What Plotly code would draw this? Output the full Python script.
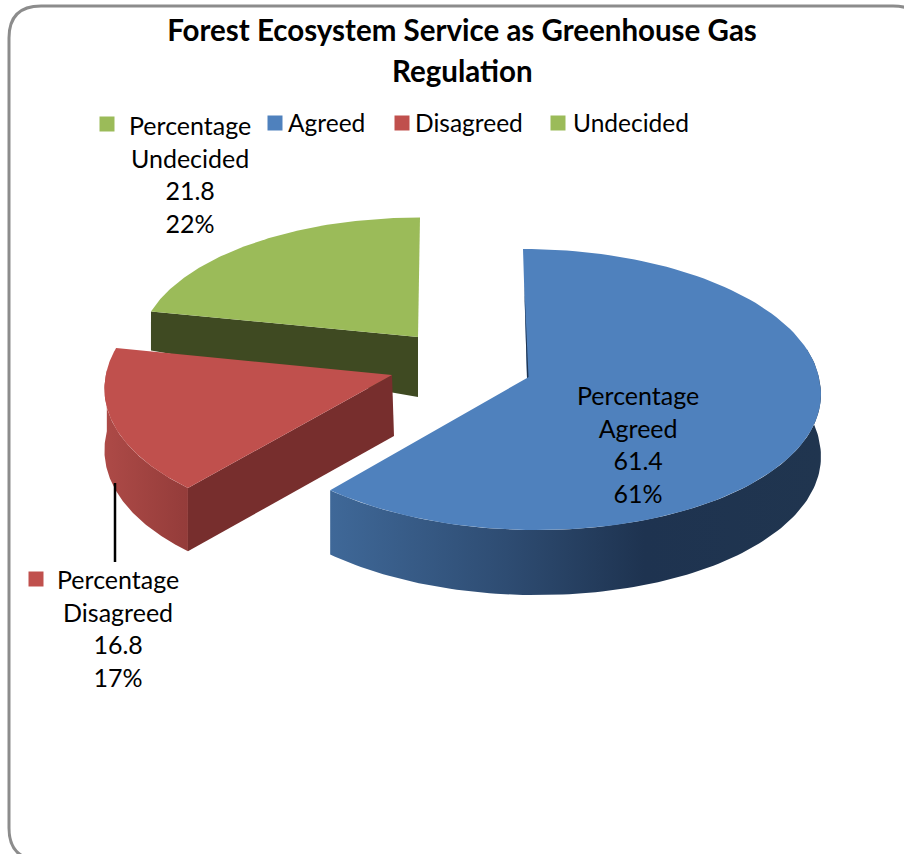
import numpy as np
import plotly.graph_objects as go

categories = ["Agreed", "Disagreed", "Undecided"]
values = [61.4, 16.8, 21.8]
title_lines = ["Forest Ecosystem Service as Greenhouse Gas", "Regulation"]
series_name = "Percentage"

FONT = "Lato, Carlito, Calibri, sans-serif"
W, H = 904, 854
RX, RY, K = 292.0, 139.6, 0.082

top_colors = ["#4f81bd", "#c0504d", "#9bbb59"]
cut_colors = ["#1f3450", "#772e2d", "#3f4a22"]
apex = [(527, 378), (392, 375), (418, 337)]
scale = [1.0, 0.98, 0.95]
# small per-wedge perspective corrections: (x rear, x front, y rear, y front)
shear = [(4, 10, 0, 0), (0, -5, 0, 4), (-2, 0, -3, 0)]
depth = [62, 61, 60]


def pt(i, deg, drop=0.0):
    t = np.radians(deg)
    u, v = np.sin(t), -np.cos(t)
    d = 1 - K * v
    sx_r, sx_f, sy_r, sy_f = shear[i]
    x = apex[i][0] + scale[i] * RX * u / d + (sx_f if v > 0 else sx_r) * v
    y = apex[i][1] + scale[i] * RY * v / d + (sy_f if v > 0 else sy_r) * v
    return x, y + drop * (1 + 0.05 * v)


def arc(i, a, b, drop=0.0, n=120):
    pts = [pt(i, d, drop) for d in np.linspace(a, b, n)]
    return [p[0] for p in pts], [p[1] for p in pts]


def poly(fig, xs, ys, color, gradient=None):
    kw = dict(fillgradient=gradient) if gradient else dict(fillcolor=color)
    fig.add_trace(go.Scatter(x=xs, y=ys, mode="lines", fill="toself",
                             line=dict(color="rgba(0,0,0,0)", width=0),
                             hoverinfo="skip", showlegend=False, **kw))


total = sum(values)
starts, ends, acc = [], [], 0.0
for v in values:
    starts.append(acc / total * 360)
    acc += v
    ends.append(acc / total * 360)

fig = go.Figure()

# Undecided wedge: cut face then top
i = 2
x0, y0 = pt(i, starts[i])
ax, ay = apex[i]
poly(fig, [x0, ax, ax, x0], [y0, ay, ay + depth[i], y0 + depth[i] * 0.65], cut_colors[i])
xs, ys = arc(i, starts[i], ends[i])
poly(fig, [ax] + xs, [ay] + ys, top_colors[i])

# Disagreed wedge: outer wall, cut face, top
i = 1
xa, ya = arc(i, starts[i], 272, 0)
xb, yb = arc(i, 272, starts[i], depth[i])
poly(fig, xa + xb, ya + yb, None,
     dict(type="horizontal", colorscale=[[0, "#ad4a47"], [1, "#943c3a"]]))
x1, y1 = pt(i, starts[i])
x2, y2 = pt(i, starts[i], depth[i])
ax, ay = apex[i]
poly(fig, [ax, x1, x2, ax + 2], [ay, y1, y2, ay + depth[i]], cut_colors[i])
xs, ys = arc(i, starts[i], ends[i])
poly(fig, [ax] + xs, [ay] + ys, top_colors[i])

# Agreed wedge: outer wall, top, dark sliver of the start cut face
i = 0
xa, ya = arc(i, 78, ends[i], 0)
xb, yb = arc(i, ends[i], 78, depth[i])
poly(fig, xa + xb, ya + yb, None,
     dict(type="horizontal",
          colorscale=[[0, "#3f6898"], [0.36, "#2e4c72"], [0.64, "#1e3350"], [1, "#20354f"]]))
ax, ay = apex[i]
xs, ys = arc(i, starts[i], ends[i])
poly(fig, [ax] + xs, [ay] + ys, top_colors[i])
tx, ty = pt(i, starts[i])
poly(fig, [tx + 0.3 * (ax - tx), ax, ax + 1.5],
     [ty + 0.27 * (ay - ty), ay, ay - 1], cut_colors[i])

# Leader line of the Disagreed label
fig.add_trace(go.Scatter(x=[115, 115], y=[483, 562], mode="lines", hoverinfo="skip",
                         line=dict(color="black", width=2.5), showlegend=False))

# Keys: legend row and data-label keys
key_x = [275, 402, 558, 107, 36]
key_y = [123, 123, 123, 124, 579]
key_c = top_colors + [top_colors[2], top_colors[1]]
fig.add_trace(go.Scatter(x=key_x, y=key_y, mode="markers", hoverinfo="skip", showlegend=False,
                         marker=dict(symbol="square", size=15, color=key_c, line=dict(width=0))))

ann = []
for name, x in zip(categories, [285.5, 412.5, 570.5]):
    ann.append(dict(x=x, y=122, text=name, xanchor="left", yanchor="middle", showarrow=False,
                    font=dict(family=FONT, size=24.5, color="black")))
label_pos = [(638, 444), (118, 628), (190, 174)]
for name, v, (x, y) in zip(categories, values, label_pos):
    ann.append(dict(x=x, y=y, text=f"{series_name}<br>{name}<br>{v}<br>{round(v)}%", align="center",
                    xanchor="center", yanchor="middle", showarrow=False,
                    font=dict(family=FONT, size=25, color="black")))
ann.append(dict(x=462, y=70, text=f"<b>{title_lines[1]}</b>", xanchor="center", yanchor="middle",
                showarrow=False, font=dict(family=FONT, size=29.5, color="black")))

fig.update_layout(
    width=W, height=H, margin=dict(l=0, r=0, t=0, b=0),
    autosize=False,
    paper_bgcolor="white", plot_bgcolor="white", showlegend=False,
    title=dict(text=f"<b>{title_lines[0]}</b>", x=462 / W, xanchor="center", xref="paper",
               y=1 - 31 / H, yanchor="middle", yref="container",
               font=dict(family=FONT, size=29.5, color="black")),
    xaxis=dict(range=[0, W], visible=False, fixedrange=True),
    yaxis=dict(range=[H, 0], visible=False, fixedrange=True),
    annotations=ann,
    shapes=[dict(type="path", layer="below",
                 path="M 9 38 Q 9 6 41 6 L 893 6 Q 925 6 925 38 L 925 828 Q 925 860 893 860 "
                      "L 41 860 Q 9 860 9 828 Z",
                 line=dict(color="#8c8c8c", width=3), fillcolor="white")],
)
fig.write_html("out.html", config={"displayModeBar": False},
               post_script="document.body.style.margin='0';document.body.style.overflow='hidden';")
